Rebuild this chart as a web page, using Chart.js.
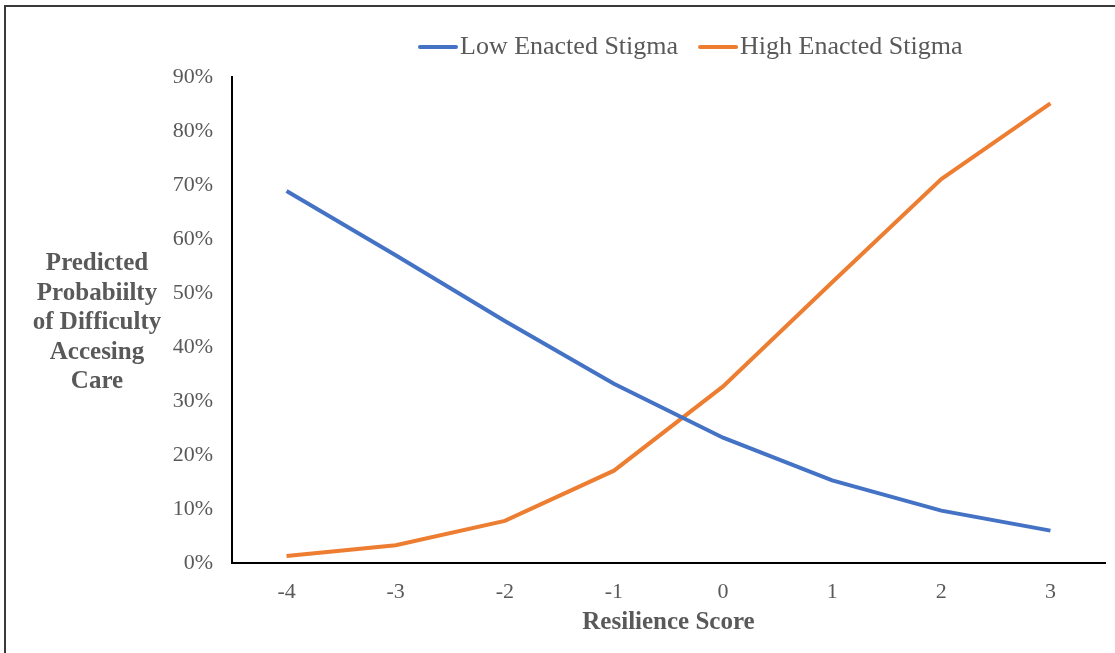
<!DOCTYPE html>
<html>
<head>
<meta charset="utf-8">
<script src="https://cdn.jsdelivr.net/npm/chart.js@4.4.1/dist/chart.umd.min.js"></script>
<style>
	html, body { margin: 0; padding: 0; background: #fff; overflow: hidden; }
	#wrap { position: relative; width: 1115px; height: 653px; }
	#frame {
		position: absolute; left: 4px; top: 5px; width: 1200px; height: 700px;
		border-left: 2px solid #3a3a3a; border-top: 2px solid #3a3a3a;
	}
	#chartCanvas { position: absolute; left: 0; top: 0; }
</style>
</head>
<body>
<div id="wrap">
	<div id="frame"></div>
	<canvas id="chartCanvas" width="1115" height="653"></canvas>
</div>
<script>
// 데이터
const scores = ["-4", "-3", "-2", "-1", "0", "1", "2", "3"];
const lowStigma = [0.689, 0.570, 0.448, 0.332, 0.232, 0.153, 0.097, 0.060];
const highStigma = [0.013, 0.033, 0.078, 0.171, 0.327, 0.520, 0.711, 0.851];
const seriesNames = ["Low Enacted Stigma", "High Enacted Stigma"];
const yTitleLines = ["Predicted", "Probabiilty", "of Difficulty", "Accesing", "Care"];
const xTitle = "Resilience Score";

const textColor = "#595959";
const serif = "'Liberation Serif', 'Times New Roman', serif";

document.addEventListener("DOMContentLoaded", () => {

	// y축 제목 (가로쓰기, 여러 줄)
	const yTitlePlugin = {
		id: "yTitlePlugin",
		afterDraw(chart) {
			const ctx = chart.ctx;
			ctx.save();
			ctx.font = "bold 25px " + serif;
			ctx.fillStyle = textColor;
			ctx.textAlign = "center";
			ctx.textBaseline = "middle";
			const cx = 97;
			const startY = 264;
			yTitleLines.forEach((line, i) => {
				ctx.fillText(line, cx, startY + i * 29.5);
			});
			ctx.restore();
		}
	};

	// 범례 직접 그리기 (엑셀처럼 가운데 살짝 오른쪽)
	const legendPlugin = {
		id: "legendPlugin",
		afterDraw(chart) {
			const ctx = chart.ctx;
			ctx.save();
			ctx.font = "26px " + serif;
			ctx.textBaseline = "middle";
			let x = 418;
			const y = 47;
			chart.data.datasets.forEach(ds => {
				ctx.strokeStyle = ds.borderColor;
				ctx.lineWidth = 4;
				ctx.lineCap = "round";
				ctx.beginPath();
				ctx.moveTo(x + 2, y);
				ctx.lineTo(x + 38, y);
				ctx.stroke();
				ctx.fillStyle = textColor;
				ctx.fillText(ds.label, x + 42, y);
				x += 42 + ctx.measureText(ds.label).width + 20;
			});
			ctx.restore();
		}
	};

	const ctx = document.getElementById("chartCanvas").getContext("2d");
	new Chart(ctx, {
		type: "line",
		data: {
			labels: scores,
			datasets: [
				{
					label: seriesNames[0],
					data: lowStigma,
					borderColor: "#4472C4",
					backgroundColor: "#4472C4",
					borderWidth: 4,
					pointRadius: 0,
					tension: 0
				},
				{
					label: seriesNames[1],
					data: highStigma,
					borderColor: "#ED7D31",
					backgroundColor: "#ED7D31",
					borderWidth: 4,
					pointRadius: 0,
					tension: 0
				}
			]
		},
		options: {
			responsive: false,
			animation: false,
			layout: { padding: { left: 0, right: 10, top: 77, bottom: 0 } },
			plugins: {
				legend: { display: false },
				tooltip: { enabled: false }
			},
			scales: {
				x: {
					offset: true,
					grid: { display: false },
					border: { display: true, color: "#000", width: 2 },
					ticks: {
						color: textColor,
						font: { family: serif, size: 22 },
						padding: 8,
						maxRotation: 0
					},
					title: {
						display: true,
						text: xTitle,
						color: textColor,
						font: { family: serif, size: 25, weight: "bold" },
						padding: { top: 4, bottom: 15 }
					},
					afterFit(scale) { scale.height = 90; }
				},
				y: {
					min: 0,
					max: 0.9,
					grid: { display: false },
					border: { display: true, color: "#000", width: 2 },
					ticks: {
						stepSize: 0.1,
						color: textColor,
						font: { family: serif, size: 22 },
						padding: 11,
						callback: function(value) {
							return Math.round(value * 100) + "%"; // % 표시
						}
					},
					afterFit(scale) { scale.width = 232; }
				}
			}
		},
		plugins: [yTitlePlugin, legendPlugin]
	});
});
</script>
</body>
</html>
